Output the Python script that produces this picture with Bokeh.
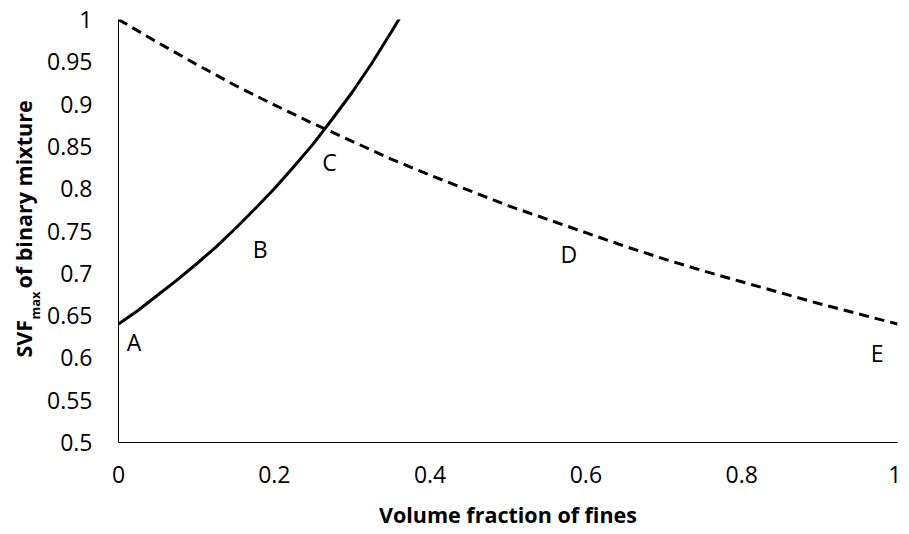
from bokeh.plotting import figure
from bokeh.models import Range1d, FixedTicker, ColumnDataSource
from bokeh.layouts import row
from bokeh.embed import file_html
from bokeh.resources import INLINE
from bokeh.core.properties import value
import math

# Coarse-dominated branch (solid)
x_coarse = [0, 0.025, 0.05, 0.075, 0.1, 0.125, 0.15, 0.175, 0.2, 0.225, 0.25, 0.275, 0.3, 0.325, 0.35, 0.3625]
svf_coarse = [0.64, 0.656, 0.674, 0.692, 0.711, 0.731, 0.753, 0.776, 0.800, 0.826, 0.853, 0.883, 0.914, 0.948, 0.985, 1.004]

# Fines-dominated branch (dashed)
x_fine = [0, 0.05, 0.1, 0.15, 0.2, 0.25, 0.3, 0.35, 0.4, 0.45, 0.5, 0.55, 0.6, 0.65, 0.7, 0.75, 0.8, 0.85, 0.9, 0.95, 1.0]
svf_fine = [1.0, 0.973, 0.947, 0.922, 0.899, 0.877, 0.856, 0.835, 0.816, 0.798, 0.780, 0.764, 0.748, 0.732, 0.717, 0.703, 0.690, 0.677, 0.664, 0.652, 0.64]

# Point labels
pt_names = ["A", "B", "C", "D", "E"]
pt_x = [0.020, 0.182, 0.271, 0.578, 0.974]
pt_y = [0.619, 0.729, 0.832, 0.723, 0.606]

x_ticks = [0, 0.2, 0.4, 0.6, 0.8, 1.0]
x_tick_labels = ["0", "0.2", "0.4", "0.6", "0.8", "1"]
y_ticks = [0.5, 0.55, 0.6, 0.65, 0.7, 0.75, 0.8, 0.85, 0.9, 0.95, 1.0]
y_tick_labels = ["0.5", "0.55", "0.6", "0.65", "0.7", "0.75", "0.8", "0.85", "0.9", "0.95", "1"]

# y-axis title pieces
ytitle_main = "SVF"
ytitle_sub = "max"
ytitle_rest = "of binary mixture"

FONT = "Open Sans"
H = 532
TOP = 19
BOT = 90
LW = 43

# ---- left strip carrying the y-axis title (with subscript) ----
# its frame is aligned with the main frame; y data = page pixel row
t = figure(width=LW, height=H, output_backend="svg", toolbar_location=None,
           x_range=Range1d(0, LW), y_range=Range1d(H - BOT, TOP),
           x_axis_type=None, y_axis_type=None,
           min_border_left=0, min_border_right=0, min_border_top=TOP, min_border_bottom=BOT)
t.outline_line_color = None
t.grid.visible = False
t.text(x=[22.5], y=[357], text=[ytitle_main], angle=math.pi / 2, text_font=value(FONT),
       text_font_style="bold", text_font_size="21.5px", text_align="left",
       text_baseline="middle", text_color="black")
t.text(x=[34], y=[319], text=[ytitle_sub], angle=math.pi / 2, text_font=value(FONT),
       text_font_style="bold", text_font_size="13px", text_align="left",
       text_baseline="middle", text_color="black")
t.text(x=[22.5], y=[288], text=[ytitle_rest], angle=math.pi / 2, text_font=value(FONT),
       text_font_style="bold", text_font_size="21.5px", text_align="left",
       text_baseline="middle", text_color="black")

# ---- main plot ----
p = figure(width=901 - LW, height=H, output_backend="svg", toolbar_location=None,
           x_range=Range1d(0, 1), y_range=Range1d(0.5, 1),
           min_border_left=118 - LW, min_border_right=4, min_border_top=TOP, min_border_bottom=BOT)
p.outline_line_color = None
p.grid.visible = False

for ax in (p.xaxis[0], p.yaxis[0]):
    ax.axis_line_color = "black"
    ax.axis_line_width = 1
    ax.major_tick_line_color = None
    ax.minor_tick_line_color = None
    ax.major_tick_out = 0
    ax.major_tick_in = 0
    ax.major_label_text_font = FONT
    ax.major_label_text_font_size = "23px"
    ax.major_label_text_color = "black"

p.xaxis.ticker = FixedTicker(ticks=x_ticks)
p.xaxis.major_label_overrides = {tk: lb for tk, lb in zip(x_ticks, x_tick_labels)}
p.yaxis.ticker = FixedTicker(ticks=y_ticks)
p.yaxis.major_label_overrides = {tk: lb for tk, lb in zip(y_ticks, y_tick_labels)}
p.xaxis.major_label_standoff = 23
p.yaxis.major_label_standoff = 26

p.xaxis.axis_label = "Volume fraction of fines"
p.xaxis.axis_label_text_font = FONT
p.xaxis.axis_label_text_font_style = "bold"
p.xaxis.axis_label_text_font_size = "21.5px"
p.xaxis.axis_label_text_color = "black"
p.xaxis.axis_label_standoff = 14

p.line(x_coarse, svf_coarse, line_color="black", line_width=3)
p.line(x_fine, svf_fine, line_color="black", line_width=3, line_dash="10 6")

src = ColumnDataSource(dict(x=pt_x, y=pt_y, t=pt_names))
p.text(x="x", y="y", text="t", source=src, text_font=value(FONT), text_font_size="23px",
       text_align="center", text_baseline="middle", text_color="black")

layout = row(t, p, spacing=0)
open("out.html", "w").write(file_html(layout, INLINE))
